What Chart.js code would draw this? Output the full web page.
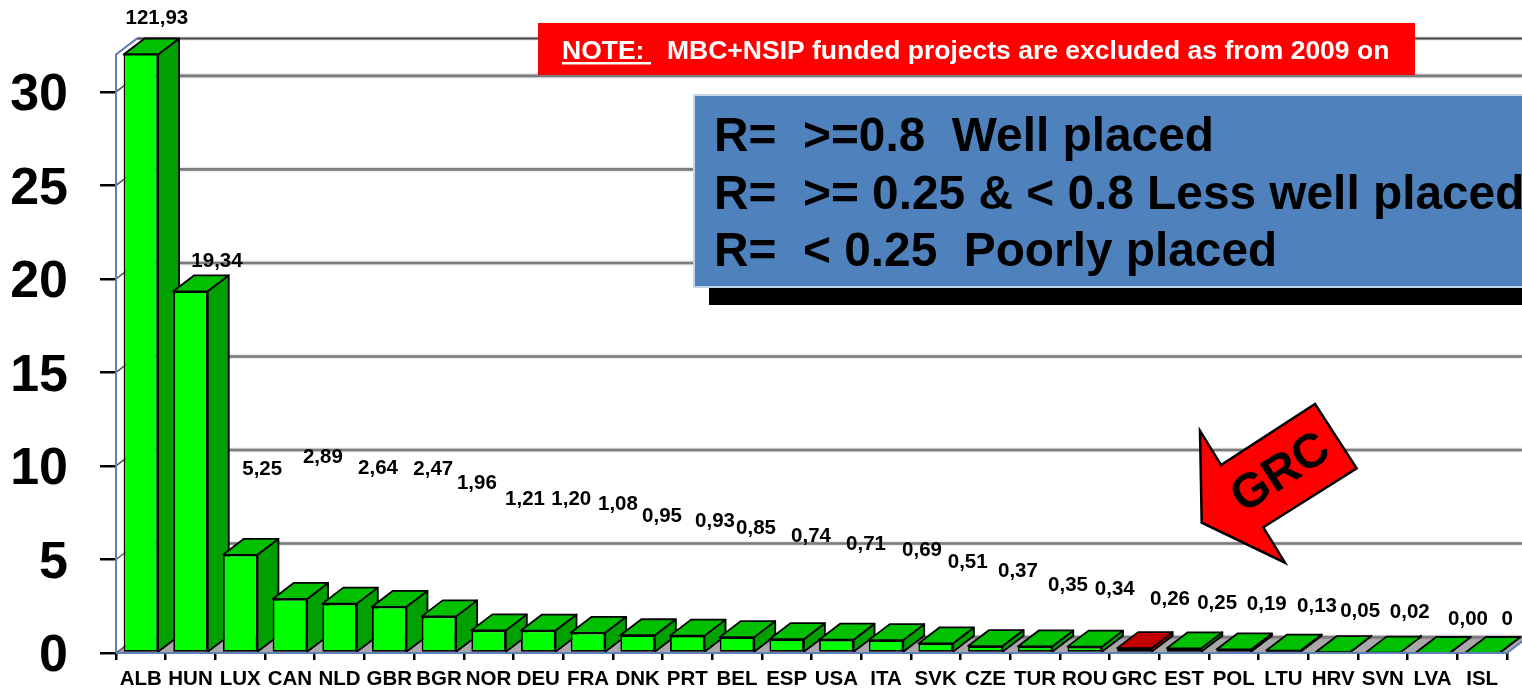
<!DOCTYPE html>
<html><head><meta charset="utf-8">
<script src="https://cdn.jsdelivr.net/npm/chart.js@4"></script>
<style>html,body{margin:0;padding:0;background:#fff;overflow:hidden}canvas{display:block}</style>
</head><body><canvas id="c" width="1522" height="689"></canvas>
<script>
const categories = ['ALB','HUN','LUX','CAN','NLD','GBR','BGR','NOR','DEU','FRA','DNK','PRT','BEL','ESP','USA','ITA','SVK','CZE','TUR','ROU','GRC','EST','POL','LTU','HRV','SVN','LVA','ISL'];
const values = [121.93,19.34,5.25,2.89,2.64,2.47,1.96,1.21,1.20,1.08,0.95,0.93,0.85,0.74,0.71,0.69,0.51,0.37,0.35,0.34,0.26,0.25,0.19,0.13,0.05,0.02,0.00,0];
const valueLabels = ['121,93','19,34','5,25','2,89','2,64','2,47','1,96','1,21','1,20','1,08','0,95','0,93','0,85','0,74','0,71','0,69','0,51','0,37','0,35','0,34','0,26','0,25','0,19','0,13','0,05','0,02','0,00','0'];
const labelOffsetX = [16,26.5,22,33,38.5,44,38,36.4,33,30,24.4,27.7,19,24.4,29.7,36,32,32.6,33,30,35.6,33,33,33.6,27,27,35.5,25];
const labelOffsetY = [-36,-30,-85,-142,-135.6,-137,-133,-131,-131.6,-128,-119,-114.6,-109,-103,-95,-90,-81.5,-75,-61.5,-57.6,-49,-45,-45,-44,-41,-40,-34,-34];
const highlighted = 'GRC';
const yMax = 32;
const yTickValues = [0,5,10,15,20,25,30];
const noteHead = 'NOTE:';
const noteBody = 'MBC+NSIP funded projects are excluded as from 2009 on';
const legendLines = ['R=  >=0.8  Well placed','R=  >= 0.25 & < 0.8 Less well placed','R=  < 0.25  Poorly placed'];
const arrowText = 'GRC';

const FONT = '"Liberation Sans", Arial, sans-serif';
const DX = 21, DY = 16;

const scene3d = {
  id: 'scene3d',
  beforeDatasetsDraw(chart) {
    const {ctx, chartArea: a, scales: {y}} = chart;
    const W = chart.width;
    ctx.save();
    // floor
    ctx.fillStyle = '#a8a8a8';
    ctx.beginPath();
    ctx.moveTo(a.left, a.bottom); ctx.lineTo(a.right, a.bottom);
    ctx.lineTo(a.right + DX, a.bottom - DY); ctx.lineTo(a.left + DX, a.bottom - DY);
    ctx.closePath(); ctx.fill();
    // back wall grid
    const levels = y.ticks.map(t => y.getPixelForValue(t.value));
    levels.push(a.top);
    for (const py of levels) {
      const top = py === a.top;
      ctx.strokeStyle = top ? '#4a4a4a' : '#7d7d7d';
      ctx.lineWidth = top ? 2 : 2.6;
      ctx.shadowColor = 'rgba(0,0,0,0.35)'; ctx.shadowBlur = 2;
      ctx.beginPath();
      ctx.moveTo(a.left + DX, py - DY); ctx.lineTo(W, py - DY);
      ctx.stroke();
      ctx.shadowBlur = 0;
      ctx.strokeStyle = '#555';
      ctx.lineWidth = 1.5;
      ctx.beginPath();
      ctx.moveTo(a.left, py); ctx.lineTo(a.left + DX, py - DY);
      ctx.stroke();
    }
    // left wall edge
    ctx.strokeStyle = '#5f7fb8'; ctx.lineWidth = 2;
    ctx.beginPath();
    ctx.moveTo(a.left, a.bottom); ctx.lineTo(a.left, a.top); ctx.lineTo(a.left + DX, a.top - DY);
    ctx.stroke();
    // bar sides and tops
    const meta = chart.getDatasetMeta(0);
    ctx.lineWidth = 1.8; ctx.strokeStyle = '#000'; ctx.lineJoin = 'round';
    meta.data.forEach((el, i) => {
      const hot = categories[i] === highlighted;
      const w = el.width, l = el.x - w / 2, r = el.x + w / 2;
      const t = Math.max(el.y, a.top), b = el.base;
      ctx.fillStyle = hot ? '#a00000' : '#00a000';
      ctx.beginPath();
      ctx.moveTo(r, t); ctx.lineTo(r + DX, t - DY); ctx.lineTo(r + DX, b - DY); ctx.lineTo(r, b);
      ctx.closePath(); ctx.fill(); ctx.stroke();
      ctx.fillStyle = hot ? '#c00000' : '#00c000';
      ctx.beginPath();
      ctx.moveTo(l, t); ctx.lineTo(r, t); ctx.lineTo(r + DX, t - DY); ctx.lineTo(l + DX, t - DY);
      ctx.closePath(); ctx.fill(); ctx.stroke();
    });
    ctx.restore();
  },
  afterDatasetsDraw(chart) {
    const {ctx, chartArea: a} = chart;
    const meta = chart.getDatasetMeta(0);
    ctx.save();
    // top edge of bars that run past the axis
    ctx.strokeStyle = '#000'; ctx.lineWidth = 1.8;
    meta.data.forEach(el => {
      if (el.y < a.top) {
        ctx.beginPath();
        ctx.moveTo(el.x - el.width / 2, a.top); ctx.lineTo(el.x + el.width / 2, a.top);
        ctx.stroke();
      }
    });
    // blue floor edge
    ctx.strokeStyle = '#5f7fb8'; ctx.lineWidth = 2;
    ctx.beginPath();
    ctx.moveTo(a.left, a.bottom); ctx.lineTo(a.right, a.bottom); ctx.lineTo(a.right + DX, a.bottom - DY);
    ctx.stroke();
    // value labels
    ctx.fillStyle = '#000'; ctx.font = 'bold 20.5px ' + FONT;
    ctx.textAlign = 'center'; ctx.textBaseline = 'middle';
    meta.data.forEach((el, i) => {
      const t = Math.max(el.y, a.top);
      ctx.fillText(valueLabels[i], el.x + labelOffsetX[i], t + labelOffsetY[i]);
    });
    ctx.restore();
  },
  afterDraw(chart) {
    const {ctx} = chart;
    ctx.save();
    // note banner
    ctx.fillStyle = '#ff0000';
    ctx.fillRect(538, 23, 877, 52);
    ctx.fillStyle = '#fff'; ctx.font = 'bold 26.5px ' + FONT;
    ctx.textAlign = 'left'; ctx.textBaseline = 'alphabetic';
    ctx.fillText(noteHead, 562, 59);
    ctx.fillRect(562, 62, 89, 2.5);
    ctx.fillText(noteBody, 667, 59);
    // legend box
    ctx.fillStyle = '#000';
    ctx.fillRect(709, 280, 813, 25);
    ctx.fillStyle = '#4f81bd';
    ctx.fillRect(694, 95, 830, 192);
    ctx.strokeStyle = '#c5d5e8'; ctx.lineWidth = 2;
    ctx.strokeRect(694, 95, 830, 192);
    ctx.fillStyle = '#000'; ctx.font = 'bold 47.8px ' + FONT;
    [151, 209, 266].forEach((py, i) => ctx.fillText(legendLines[i], 714, py));
    // GRC arrow
    ctx.fillStyle = '#ff0000'; ctx.strokeStyle = '#000'; ctx.lineWidth = 2.5; ctx.lineJoin = 'miter';
    ctx.beginPath();
    [[1315,404],[1356.7,468.3],[1263.3,527.3],[1285,562.7],[1201.7,522.7],[1200,430.7],[1221,465]]
      .forEach((p, i) => i ? ctx.lineTo(p[0], p[1]) : ctx.moveTo(p[0], p[1]));
    ctx.closePath(); ctx.fill(); ctx.stroke();
    ctx.translate(1280, 472); ctx.rotate(-33 * Math.PI / 180);
    ctx.fillStyle = '#000'; ctx.font = 'bold 48px ' + FONT;
    ctx.textAlign = 'center'; ctx.textBaseline = 'middle';
    ctx.fillText(arrowText, 0, 2);
    ctx.restore();
  }
};

const noPad = s => { s.paddingTop = 0; s.paddingBottom = 0; s.paddingLeft = 0; s.paddingRight = 0; };

new Chart(document.getElementById('c'), {
  type: 'bar',
  data: {
    labels: categories,
    datasets: [{
      data: values,
      backgroundColor: categories.map(c => c === highlighted ? '#ff0000' : '#00ff00'),
      borderColor: '#000',
      borderWidth: 1.8,
      borderSkipped: false,
      barPercentage: 0.694,
      categoryPercentage: 1
    }]
  },
  options: {
    responsive: false,
    animation: false,
    layout: {padding: {top: 54.5, right: 15, left: 0, bottom: 0}},
    plugins: {legend: {display: false}, tooltip: {enabled: false}, title: {display: false}},
    scales: {
      x: {
        afterFit: s => { s.height = 36; noPad(s); },
        border: {display: false},
        grid: {drawOnChartArea: false, drawTicks: true, tickLength: 7, color: '#000', lineWidth: 2.5},
        ticks: {color: '#000', font: {family: FONT, size: 20.5, weight: 'bold'}, padding: 7, maxRotation: 0, autoSkip: false}
      },
      y: {
        min: 0, max: yMax,
        afterFit: s => { s.width = 116; noPad(s); },
        afterBuildTicks: s => { s.ticks = yTickValues.map(value => ({value})); },
        border: {display: false},
        grid: {drawOnChartArea: false, drawTicks: true, tickLength: 16, color: '#000', lineWidth: 2.5},
        ticks: {color: '#000', font: {family: FONT, size: 52, weight: 'bold'}, padding: 32, labelOffset: 4, autoSkip: false}
      }
    }
  },
  plugins: [scene3d]
});
</script></body></html>
